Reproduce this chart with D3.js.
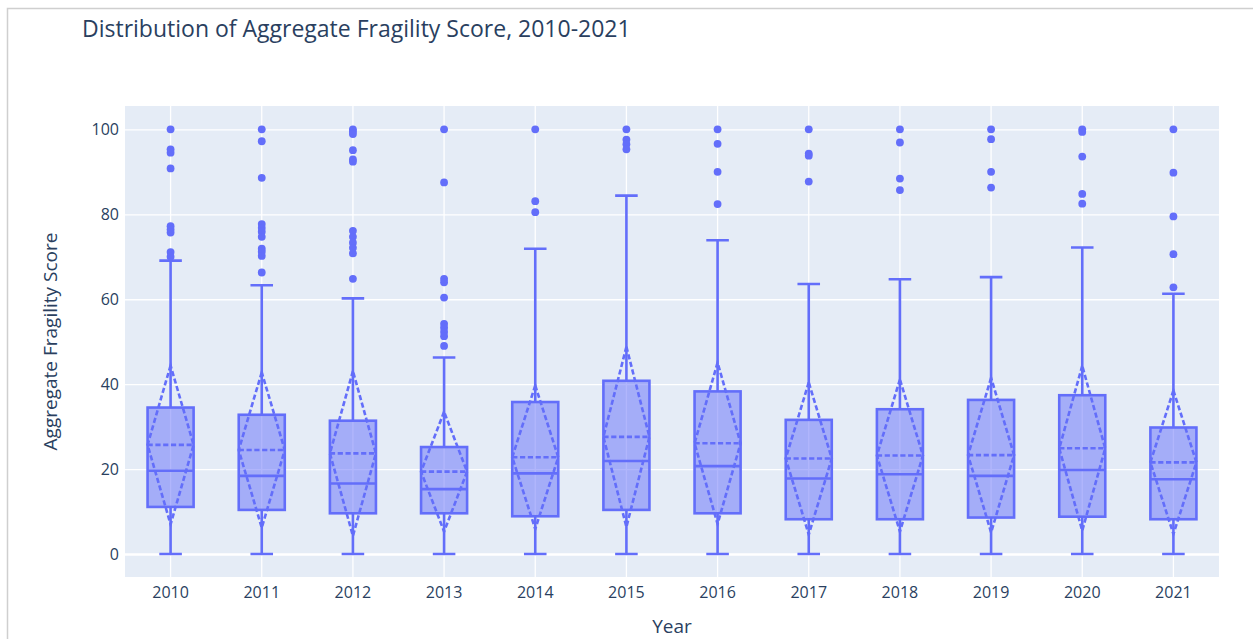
<!DOCTYPE html>
<html>
<head>
<meta charset="utf-8">
<script src="https://cdn.jsdelivr.net/npm/d3@7"></script>
<style>
  html, body { margin: 0; padding: 0; background: #fff; }
  svg { display: block; font-family: "Open Sans", "Noto Sans", sans-serif; }
</style>
</head>
<body>
<svg id="chart" width="1253" height="639"></svg>
<script>
// Box stats, one entry per year
const years = ["2010", "2011", "2012", "2013", "2014", "2015", "2016", "2017", "2018", "2019", "2020", "2021"];
const lowerFence = [0, 0, 0, 0, 0, 0, 0, 0, 0, 0, 0, 0];
const q1 = [11.1, 10.4, 9.6, 9.6, 8.9, 10.4, 9.6, 8.2, 8.2, 8.6, 8.8, 8.2];
const median = [19.6, 18.4, 16.6, 15.3, 19.0, 21.9, 20.7, 17.8, 18.8, 18.4, 19.8, 17.6];
const q3 = [34.5, 32.8, 31.4, 25.2, 35.8, 40.8, 38.3, 31.6, 34.1, 36.3, 37.4, 29.8];
const upperFence = [69.1, 63.3, 60.2, 46.3, 71.9, 84.4, 73.9, 63.6, 64.7, 65.2, 72.2, 61.3];
const means = [25.7, 24.5, 23.7, 19.4, 22.8, 27.6, 26.1, 22.5, 23.2, 23.3, 24.9, 21.6];
const sds = [18.7, 18.3, 19.4, 14.1, 16.9, 21.2, 19.0, 17.9, 17.9, 18.2, 19.4, 16.9];
const outliers = [
    [100, 95.3, 94.5, 90.8, 77.2, 76.4, 75.7, 71.1, 70.0],
    [100, 97.2, 88.6, 77.7, 76.8, 75.9, 74.7, 71.9, 71.2, 70.2, 66.3],
    [100, 99.5, 98.9, 95.1, 92.9, 92.4, 76.1, 74.7, 73.3, 72.1, 70.8, 64.8],
    [100, 87.5, 64.8, 64.0, 60.4, 54.2, 53.3, 52.3, 51.3, 49.0],
    [100, 83.1, 80.5],
    [100, 97.6, 96.5, 95.3],
    [100, 96.6, 90.0, 82.4],
    [100, 94.3, 93.8, 87.7],
    [100, 96.9, 88.4, 85.7],
    [100, 97.7, 90.0, 86.3],
    [100, 99.4, 93.6, 84.8, 82.5],
    [100, 89.8, 79.5, 70.6, 62.8]
];
const yTicks = [0, 20, 40, 60, 80, 100];

const boxes = years.map((year, i) => ({
    year,
    lo: lowerFence[i], q1: q1[i], med: median[i], q3: q3[i], hi: upperFence[i],
    mean: means[i], sd: sds[i], out: outliers[i]
}));

// Plot area
const plot = { left: 125, right: 1219, top: 106, bottom: 577 };
const lineColor = "#636efa";
const textColor = "#2a3f5f";
const lw = 2.6;

const svg = d3.select("#chart");

// Outer container border (top and left edges are visible)
svg.append("rect")
    .attr("x", 7.5).attr("y", 8.5)
    .attr("width", 1300).attr("height", 700)
    .attr("fill", "none")
    .attr("stroke", "#cfcfcf")
    .attr("stroke-width", 1.5);

const x = d3.scaleBand()
    .domain(years)
    .range([plot.left, plot.right])
    .padding(0);

const y = d3.scaleLinear()
    .domain([-5.4, 105.5])
    .range([plot.bottom, plot.top]);

svg.append("rect")
    .attr("x", plot.left).attr("y", plot.top)
    .attr("width", plot.right - plot.left)
    .attr("height", plot.bottom - plot.top)
    .attr("fill", "#e5ecf6");

// Horizontal gridlines
const yGrid = svg.append("g")
    .attr("transform", `translate(${plot.left},0)`)
    .call(d3.axisLeft(y).tickValues(yTicks).tickSize(-(plot.right - plot.left)).tickFormat(""));
yGrid.select(".domain").remove();
yGrid.selectAll("line")
    .attr("stroke", "#fff")
    .attr("stroke-width", d => d === 0 ? 2.6 : 1.3);

// Vertical gridlines at category centers
const xGrid = svg.append("g")
    .attr("transform", `translate(0,${plot.bottom})`)
    .call(d3.axisBottom(x).tickSize(-(plot.bottom - plot.top)).tickFormat(""));
xGrid.select(".domain").remove();
xGrid.selectAll("line").attr("stroke", "#fff").attr("stroke-width", 1.3);

// Axes labels
const yAxis = svg.append("g")
    .attr("transform", `translate(${plot.left},0)`)
    .call(d3.axisLeft(y).tickValues(yTicks).tickSize(0).tickPadding(6));
yAxis.select(".domain").remove();
yAxis.selectAll("text")
    .attr("fill", textColor)
    .style("font-size", "16px")
    .style("font-family", "'Open Sans', sans-serif");

const xAxis = svg.append("g")
    .attr("transform", `translate(0,${plot.bottom})`)
    .call(d3.axisBottom(x).tickSize(0).tickPadding(10));
xAxis.select(".domain").remove();
xAxis.selectAll("text")
    .attr("fill", textColor)
    .style("font-size", "16px")
    .style("font-family", "'Open Sans', sans-serif");

// Boxes
const boxW = x.bandwidth() * 0.505;
const capW = boxW * 0.49;

const g = svg.selectAll(".box")
    .data(boxes)
    .enter()
    .append("g")
    .attr("class", "box")
    .attr("transform", d => `translate(${x(d.year) + x.bandwidth() / 2},0)`);

// Whiskers
g.append("path")
    .attr("d", d => `M0,${y(d.q3)}V${y(d.hi)}M${-capW / 2},${y(d.hi)}H${capW / 2}` +
        `M0,${y(d.q1)}V${y(d.lo)}M${-capW / 2},${y(d.lo)}H${capW / 2}`)
    .attr("fill", "none")
    .attr("stroke", lineColor)
    .attr("stroke-width", lw);

// Box body
g.append("rect")
    .attr("x", -boxW / 2)
    .attr("width", boxW)
    .attr("y", d => y(d.q3))
    .attr("height", d => y(d.q1) - y(d.q3))
    .attr("fill", "rgba(99,110,250,0.5)")
    .attr("stroke", lineColor)
    .attr("stroke-width", lw);

// Median
g.append("line")
    .attr("x1", -boxW / 2).attr("x2", boxW / 2)
    .attr("y1", d => y(d.med)).attr("y2", d => y(d.med))
    .attr("stroke", lineColor)
    .attr("stroke-width", lw);

// Mean and standard deviation diamond (dashed)
g.append("path")
    .attr("d", d => `M${-boxW / 2},${y(d.mean)}H${boxW / 2}` +
        `M0,${y(d.mean + d.sd)}L${-boxW / 2},${y(d.mean)}L0,${y(d.mean - d.sd)}L${boxW / 2},${y(d.mean)}Z`)
    .attr("fill", "none")
    .attr("stroke", lineColor)
    .attr("stroke-width", lw)
    .attr("stroke-dasharray", `${2 * lw},${lw}`);

// Outliers
g.selectAll("circle")
    .data(d => d.out)
    .enter()
    .append("circle")
    .attr("cx", 0)
    .attr("cy", v => y(v))
    .attr("r", 3.9)
    .attr("fill", lineColor);

// Titles
svg.append("text")
    .attr("x", 82)
    .attr("y", 37)
    .attr("fill", textColor)
    .style("font-size", "23px")
    .text("Distribution of Aggregate Fragility Score, 2010-2021");

svg.append("text")
    .attr("transform", `translate(57,${(plot.top + plot.bottom) / 2}) rotate(-90)`)
    .attr("text-anchor", "middle")
    .attr("fill", textColor)
    .style("font-size", "19px")
    .text("Aggregate Fragility Score");

svg.append("text")
    .attr("x", (plot.left + plot.right) / 2)
    .attr("y", 633)
    .attr("text-anchor", "middle")
    .attr("fill", textColor)
    .style("font-size", "19px")
    .text("Year");
</script>
</body>
</html>
